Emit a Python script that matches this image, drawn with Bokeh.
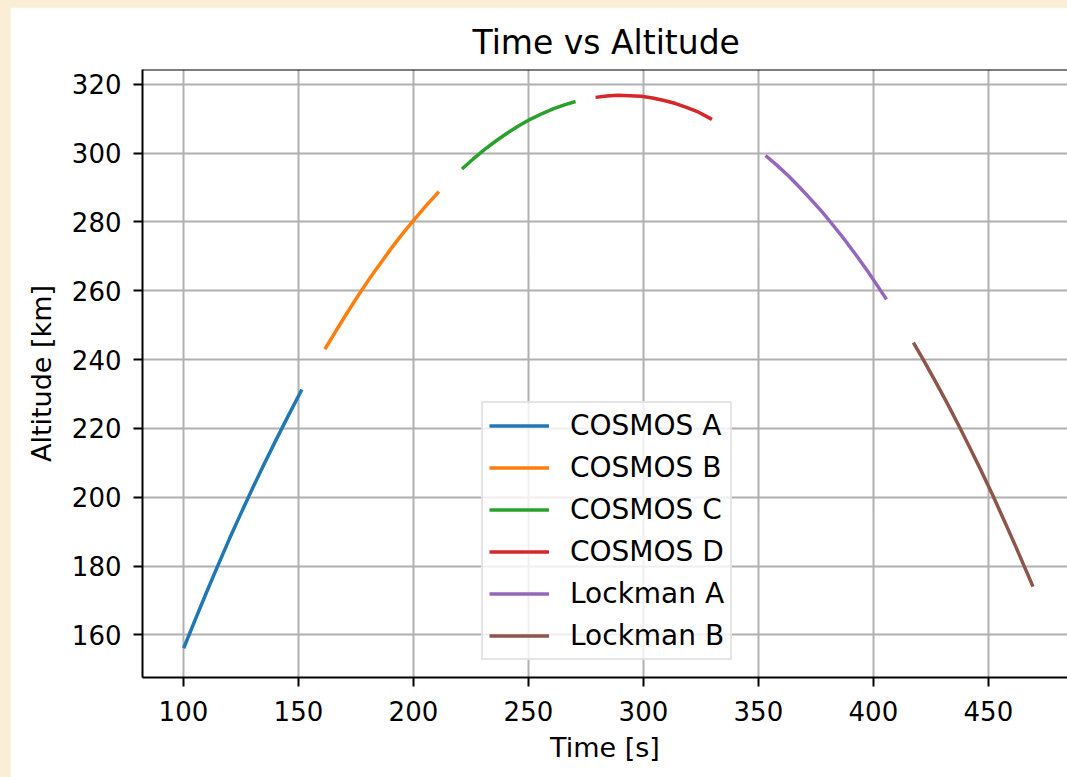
from bokeh.plotting import figure
from bokeh.models import Span, Legend, LegendItem, FixedTicker, Range1d
from bokeh.embed import file_html
from bokeh.resources import INLINE

# ---- data ----
names = ["COSMOS A", "COSMOS B", "COSMOS C", "COSMOS D", "Lockman A", "Lockman B"]
colors = ["#1f77b4", "#ff7f0e", "#2ca02c", "#d62728", "#9467bd", "#8c564b"]

t_cosmos_a = [100.1, 105, 110, 115, 120, 125, 130, 135, 140, 145, 151.5]
h_cosmos_a = [156.1, 164.2, 172.3, 180.2, 187.9, 195.3, 202.5, 209.5, 216.3, 222.9, 231.3]

t_cosmos_b = [161.5, 166, 171, 176, 181, 186, 191, 196, 201, 206, 211.1]
h_cosmos_b = [243.0, 248.0, 253.4, 258.6, 263.6, 268.3, 272.9, 277.2, 281.2, 285.1, 288.8]

t_cosmos_c = [221.1, 226, 231, 236, 241, 246, 251, 256, 261, 266, 270.5]
h_cosmos_c = [295.4, 298.3, 301.1, 303.6, 305.9, 308.0, 309.9, 311.5, 312.9, 314.1, 315.0]

t_cosmos_d = [279.2, 284, 289, 294, 299, 304, 309, 314, 319, 324, 329.8]
h_cosmos_d = [316.2, 316.6, 316.8, 316.7, 316.5, 316.0, 315.3, 314.4, 313.2, 311.9, 309.8]

t_lockman_a = [353.1, 358, 363, 368, 373, 378, 383, 388, 393, 398, 405.7]
h_lockman_a = [299.3, 296.5, 293.4, 290.0, 286.4, 282.7, 278.6, 274.4, 269.9, 265.2, 257.5]

t_lockman_b = [417.4, 422, 427, 432, 437, 442, 447, 452, 457, 462, 469.4]
h_lockman_b = [244.9, 239.6, 233.6, 227.4, 221.0, 214.3, 207.5, 200.4, 193.0, 185.5, 174.0]

x_ticks = [100, 150, 200, 250, 300, 350, 400, 450]
y_ticks = [160, 180, 200, 220, 240, 260, 280, 300, 320]

series_t = [t_cosmos_a, t_cosmos_b, t_cosmos_c, t_cosmos_d, t_lockman_a, t_lockman_b]
series_h = [h_cosmos_a, h_cosmos_b, h_cosmos_c, h_cosmos_d, h_lockman_a, h_lockman_b]

FONT = "DejaVu Sans"
Y_TOP = 324.3

p = figure(width=1057, height=770, output_backend="svg", toolbar_location=None,
           x_range=Range1d(82.2, 484.4), y_range=Range1d(147.6, Y_TOP),
           min_border_left=132, min_border_right=0, min_border_top=62,
           min_border_bottom=100)

p.background_fill_color = "white"
p.border_fill_color = "white"
p.outline_line_color = None

p.title.text = "Time vs Altitude"
p.title.align = "left"
p.title.offset = 330
p.title.text_font = FONT
p.title.text_font_size = "33px"
p.title.text_font_style = "normal"
p.title.text_color = "black"
p.title.standoff = 15

p.xaxis.axis_label = "Time [s]"
p.yaxis.axis_label = "Altitude [km]"
p.xaxis.ticker = FixedTicker(ticks=x_ticks)
p.yaxis.ticker = FixedTicker(ticks=y_ticks)

for ax in (p.xaxis, p.yaxis):
    ax.axis_line_color = "black"
    ax.axis_line_width = 2
    ax.major_tick_line_color = "black"
    ax.major_tick_line_width = 2
    ax.major_tick_out = 9
    ax.major_tick_in = 0
    ax.minor_tick_line_color = None
    ax.major_label_text_font = FONT
    ax.major_label_text_font_size = "26px"
    ax.major_label_text_color = "black"
    ax.axis_label_text_font = FONT
    ax.axis_label_text_font_size = "27px"
    ax.axis_label_text_font_style = "normal"
    ax.axis_label_text_color = "black"

p.xaxis.major_label_standoff = 14
p.xaxis.axis_label_standoff = 8
p.yaxis.major_label_standoff = 12
p.yaxis.axis_label_standoff = 12

p.grid.grid_line_color = "#b0b0b0"
p.grid.grid_line_width = 2

# top spine
p.add_layout(Span(location=Y_TOP, dimension="width", line_color="black", line_width=2))

items = []
for name, col, ts, hs in zip(names, colors, series_t, series_h):
    r = p.line(ts, hs, line_color=col, line_width=3.5)
    items.append(LegendItem(label=name, renderers=[r]))

legend = Legend(items=items, location=(339, 17))
legend.label_text_font = FONT
legend.label_text_font_size = "28px"
legend.label_text_color = "black"
legend.glyph_width = 60
legend.glyph_height = 33
legend.label_height = 33
legend.spacing = 9
legend.padding = 6
legend.label_standoff = 21
legend.border_line_color = "#cccccc"
legend.border_line_width = 2
legend.background_fill_alpha = 0.8
p.add_layout(legend)

html = file_html(p, INLINE)
css = ("<style>html,body{background:#faefd6;overflow:hidden;}"
       "body{padding:7px 0 0 10px !important;margin:0 !important;}</style>")
html = html.replace("</head>", css + "</head>", 1)
open("out.html", "w").write(html)
